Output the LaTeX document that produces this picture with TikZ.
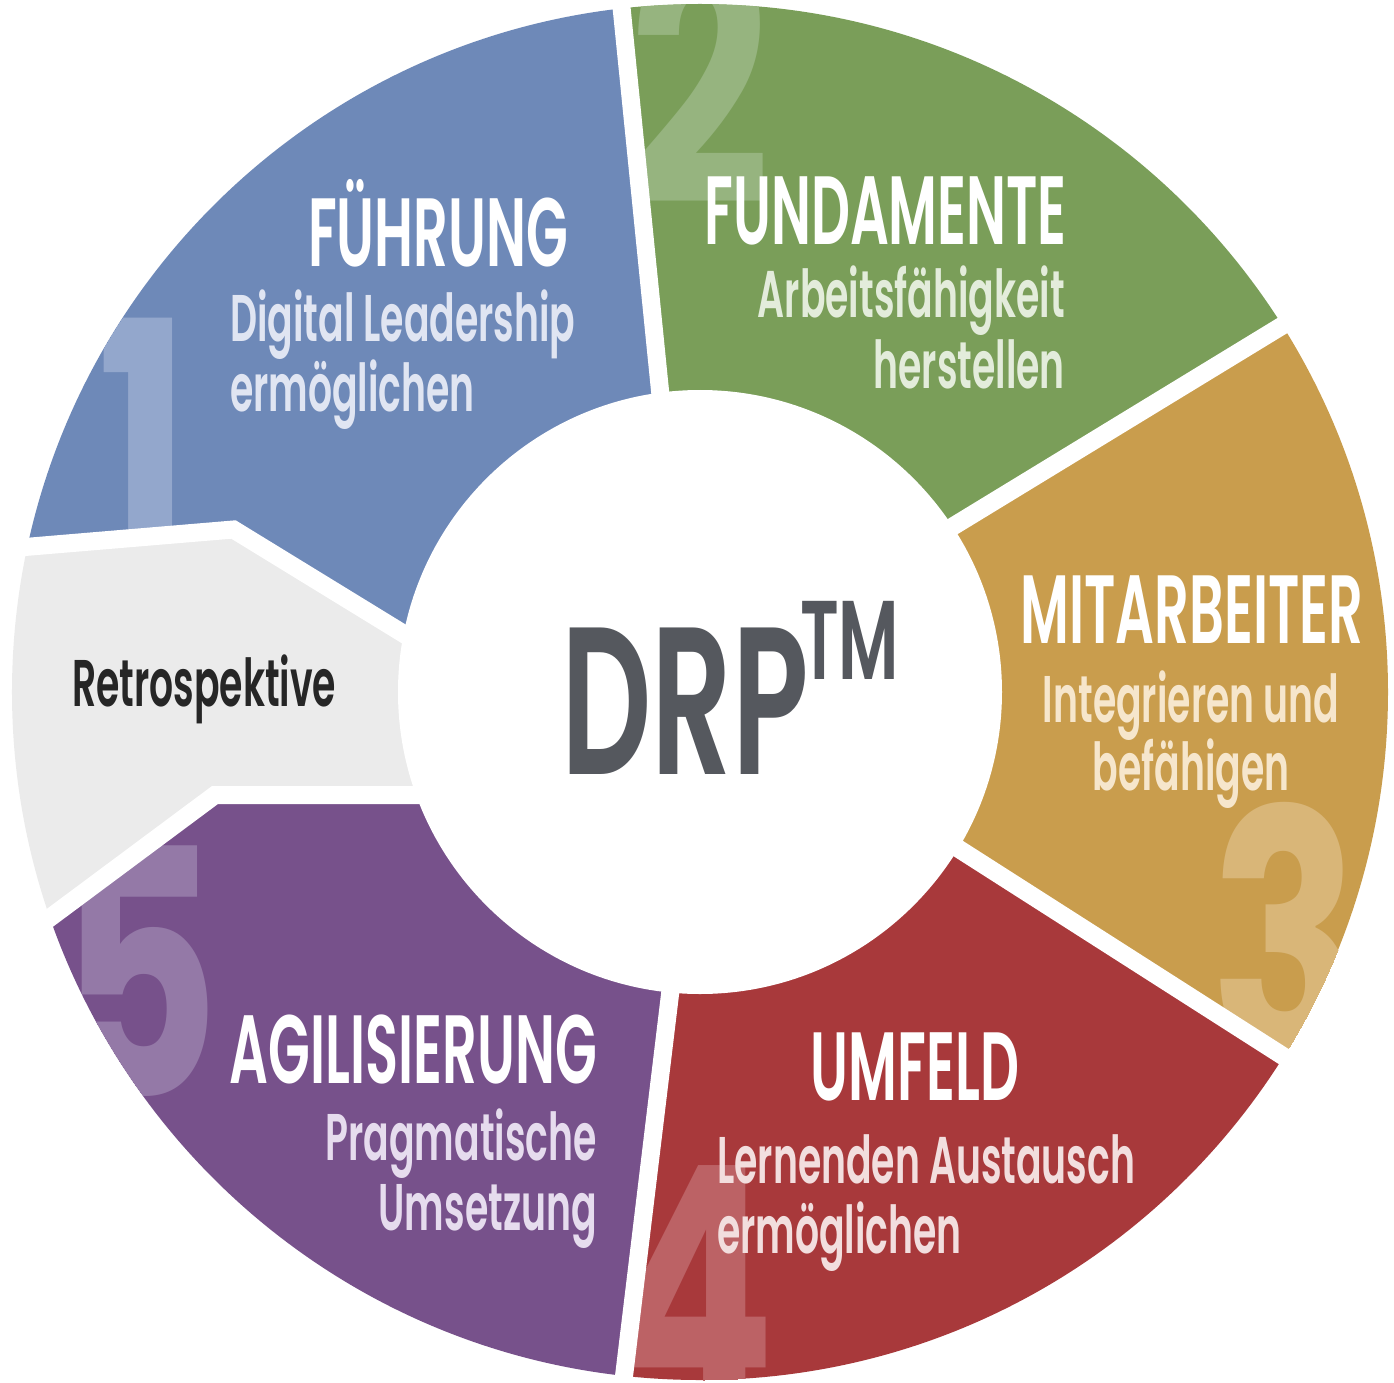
\documentclass[tikz,border=0pt]{standalone}
\usepackage{fontspec}
\setmainfont{Poppins}
\newfontfamily\condfont[FakeStretch=0.56, BoldFont={Poppins SemiBold}]{Poppins}
\newfontfamily\subfont[FakeStretch=0.572, BoldFont={Poppins SemiBold}]{Poppins}
\newfontfamily\drpfont[FakeStretch=0.6, BoldFont={Poppins SemiBold}]{Poppins}
\newfontfamily\numfont[FakeStretch=0.72]{Poppins}

\definecolor{fuehrungcol}{HTML}{6E89B8}
\definecolor{fuehrungnum}{HTML}{93A7CC}
\definecolor{fuehrungtxt}{HTML}{E0E5F2}
\definecolor{fundcol}{HTML}{7A9E59}
\definecolor{fundnum}{HTML}{96B47F}
\definecolor{fundtxt}{HTML}{E3ECDB}
\definecolor{mitcol}{HTML}{C99D4D}
\definecolor{mitnum}{HTML}{D9B678}
\definecolor{mittxt}{HTML}{F6E6CC}
\definecolor{umfcol}{HTML}{A8393B}
\definecolor{umfnum}{HTML}{BC6265}
\definecolor{umftxt}{HTML}{F2DEDE}
\definecolor{agilcol}{HTML}{77518B}
\definecolor{agilnum}{HTML}{9479A7}
\definecolor{agiltxt}{HTML}{E6DCEE}
\definecolor{retrocol}{HTML}{EBEBEB}
\definecolor{retrotxt}{HTML}{262626}
\definecolor{drpgrey}{HTML}{55585E}

\begin{document}
\begin{tikzpicture}[x=1pt, y=1pt,
  head/.style={text=white, inner sep=0pt, font=\condfont\bfseries\fontsize{97}{100}\selectfont},
  sub/.style={inner sep=0pt, font=\subfont\bfseries\fontsize{66}{70}\selectfont},
  num/.style={inner sep=0pt, anchor=base, font=\numfont\bfseries\fontsize{343}{343}\selectfont},
  gap/.style={white, line width=18pt, line join=miter}]

\useasboundingbox (-700,-690) rectangle (694,692);

% boundary points between the segments
\coordinate (b1in) at (-30,202);     \coordinate (b1out) at (-100,899);
\coordinate (b2in) at (170,115);     \coordinate (b2out) at (767,479);
\coordinate (b3in) at (176,-104);    \coordinate (b3out) at (766,-481);
\coordinate (b4in) at (-18,-203);    \coordinate (b4out) at (-102,-900);
\coordinate (b5in) at (-200,-103);   \coordinate (b5a) at (-485,-103);   \coordinate (b5out) at (-895,-408);
\coordinate (b6in) at (-214.5,8);    \coordinate (b6a) at (-298.5,59.5);
\coordinate (b6b) at (-466.5,162.5); \coordinate (b6out) at (-871.5,128.5);

\begin{scope}
\clip (0,0) circle (688);

% 1 Fuehrung
\begin{scope}
\clip (0,0) -- (b1in) -- (b1out) -- (-800,800) -- (b6out) -- (b6b) -- (b6a) -- (b6in) -- cycle;
\fill[fuehrungcol] (-700,-700) rectangle (700,700);
\node[num, text=fuehrungnum] (n1) at (-556,124) {1};
\end{scope}

% 2 Fundamente
\begin{scope}
\clip (0,0) -- (b2in) -- (b2out) -- (b1out) -- (b1in) -- cycle;
\fill[fundcol] (-700,-700) rectangle (700,700);
\node[num, text=fundnum] (n2) at (0,487) {2};
\end{scope}

% 3 Mitarbeiter
\begin{scope}
\clip (0,0) -- (b3in) -- (b3out) -- (1000,0) -- (b2out) -- (b2in) -- cycle;
\fill[mitcol] (-700,-700) rectangle (700,700);
\node[num, text=mitnum] (n3) at (585,-366) {3};
\end{scope}

% 4 Umfeld
\begin{scope}
\clip (0,0) -- (b4in) -- (b4out) -- (500,-900) -- (b3out) -- (b3in) -- cycle;
\fill[umfcol] (-700,-700) rectangle (700,700);
\node[num, text=umfnum] (n4) at (-8,-720) {4};
\end{scope}

% 5 Agilisierung
\begin{scope}
\clip (0,0) -- (b5in) -- (b5a) -- (b5out) -- (-700,-850) -- (b4out) -- (b4in) -- cycle;
\fill[agilcol] (-700,-700) rectangle (700,700);
\node[num, text=agilnum] (n5) at (-560,-404) {5};
\end{scope}

% Retrospektive
\fill[retrocol] (0,0) -- (b6in) -- (b6a) -- (b6b) -- (b6out) -- (-1000,-100) -- (b5out) -- (b5a) -- (b5in) -- cycle;
\end{scope}

% white gaps
\draw[gap] (b1in) -- (b1out);
\draw[gap] (b2in) -- (b2out);
\draw[gap] (b3in) -- (b3out);
\draw[gap] (b4in) -- (b4out);
\draw[gap] (b5in) -- (b5a) -- (b5out);
\draw[gap] (b6in) -- (b6a) -- (b6b) -- (b6out);

\node[circle, fill=white, minimum size=604pt, inner sep=0pt] (hub) at (0,0) {};
\node[anchor=base west, inner sep=0pt, text=drpgrey, font=\drpfont\bfseries\fontsize{210}{210}\selectfont] (drp) at (-139,-82) {DRP};
\node[anchor=base west, inner sep=0pt, text=drpgrey, font=\drpfont\bfseries\fontsize{112}{112}\selectfont] (tm) at (100,13) {TM};

\node[head, anchor=base] (fuehrung) at (-262,425) {FÜHRUNG};
\node[sub, text=fuehrungtxt, anchor=base west] (fuehrung1) at (-470,350) {Digital Leadership};
\node[sub, text=fuehrungtxt, anchor=base west] (fuehrung2) at (-470,280) {ermöglichen};

\node[head, anchor=base east] (fund) at (367,447) {FUNDAMENTE};
\node[sub, text=fundtxt, anchor=base east] (fund1) at (365,374) {Arbeitsfähigkeit};
\node[sub, text=fundtxt, anchor=base east] (fund2) at (365,304) {herstellen};

\node[head, anchor=base] (mit) at (492,49) {MITARBEITER};
\node[sub, text=mittxt, anchor=base] (mit1) at (491,-30) {Integrieren und};
\node[sub, text=mittxt, anchor=base] (mit2) at (491,-98) {befähigen};

\node[head, anchor=base] (umf) at (215,-408) {UMFELD};
\node[sub, text=umftxt, anchor=base west] (umf1) at (17,-491) {Lernenden Austausch};
\node[sub, text=umftxt, anchor=base west] (umf2) at (17,-561) {ermöglichen};

\node[head, anchor=base east] (agil) at (-103,-391) {AGILISIERUNG};
\node[sub, text=agiltxt, anchor=base east] (agil1) at (-103,-468) {Pragmatische};
\node[sub, text=agiltxt, anchor=base east] (agil2) at (-103,-538) {Umsetzung};

\node[sub, text=retrotxt, anchor=base west] (retro) at (-628,-14) {Retrospektive};
\end{tikzpicture}
\end{document}
